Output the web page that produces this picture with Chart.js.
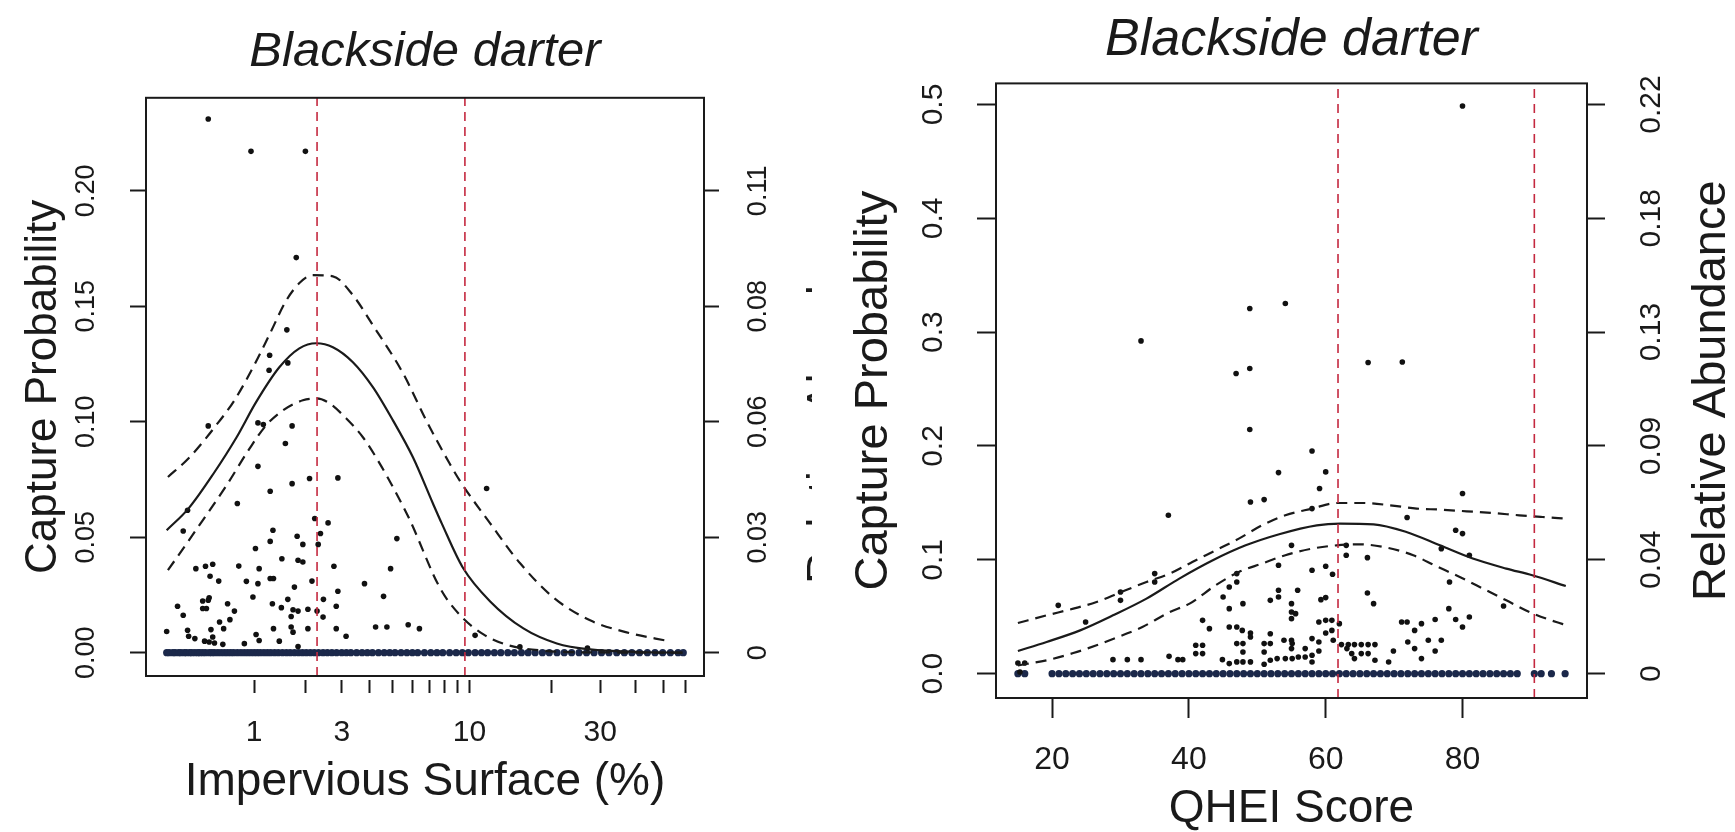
<!DOCTYPE html>
<html>
<head>
<meta charset="utf-8">
<script src="https://cdn.jsdelivr.net/npm/chart.js@4.4.1/dist/chart.umd.min.js"></script>
<style>
  body { margin: 0; background: #fff; }
  #left { position: absolute; left: 0; top: 0; }
  #right { position: absolute; left: 812px; top: 0; background: #fff; }
</style>
</head>
<body>
<canvas id="left" width="840" height="832"></canvas>
<canvas id="right" width="923" height="832"></canvas>
<script>
// ---- left panel: impervious surface (%), x drawn on a log10(% + 1) axis ----
var impTicks = [1, 2, 3, 4, 5, 6, 7, 8, 9, 10, 20, 30, 40, 50, 60];
var impLabels = { 1: '1', 3: '3', 10: '10', 30: '30' };
var impProbTicks = [0, 0.05, 0.1, 0.15, 0.2];
var impProbLabels = ['0.00', '0.05', '0.10', '0.15', '0.20'];
var impRelLabels = ['0', '0.03', '0.06', '0.08', '0.11'];
var impCuts = [2.29, 9.61];

var impZero = [0, 0.02, 0.05, 0.07, 0.1, 0.12, 0.15, 0.17, 0.2, 0.22, 0.25, 0.28, 0.3, 0.33, 0.36, 0.4,
  0.43, 0.46, 0.5, 0.54, 0.58, 0.62, 0.66, 0.7, 0.75, 0.8, 0.85, 0.9, 0.95, 1, 1.05, 1.1, 1.16, 1.22,
  1.28, 1.35, 1.42, 1.5, 1.58, 1.66, 1.75, 1.84, 1.93, 2.02, 2.12, 2.22, 2.33, 2.45, 2.57, 2.7, 2.84,
  3, 3.15, 3.3, 3.5, 3.7, 3.9, 4.1, 4.35, 4.6, 4.85, 5.1, 5.4, 5.7, 6, 6.3, 6.7, 7.1, 7.5, 7.9, 8.4,
  8.9, 9.4, 9.9, 10.5, 11.1, 11.7, 12.4, 13.1, 13.9, 14.7, 15.6, 16.5, 17.5, 18.6, 19.7, 21, 22.3,
  23.7, 25.2, 26.8, 28.5, 30.3, 32.2, 34.3, 36.5, 38.8, 41.3, 44, 46.8, 49.8, 53, 56.4, 58.8];

var impPts = [[0.39, 0.2311], [0.95, 0.2171], [2.0, 0.2171], [1.79, 0.1711], [1.59, 0.1398],
  [1.26, 0.1288], [1.61, 0.1255], [1.25, 0.1223], [0.39, 0.0982], [1.06, 0.0995], [1.15, 0.0988],
  [1.7, 0.0982], [1.56, 0.0906], [1.06, 0.0807], [2.1, 0.0754], [2.88, 0.0757], [1.7, 0.0732],
  [1.27, 0.0699], [0.75, 0.0646], [0.18, 0.0617], [2.23, 0.0581], [2.59, 0.0562], [1.32, 0.053],
  [11.6, 0.0711], [0.14, 0.0527], [2.38, 0.0516], [1.81, 0.0504], [1.27, 0.0482], [1.94, 0.0469],
  [2.32, 0.0469], [5.19, 0.0494], [1.02, 0.0451], [1.49, 0.0407], [1.83, 0.04], [1.94, 0.0393],
  [0.26, 0.0364], [0.36, 0.0374], [0.44, 0.0383], [0.77, 0.0375], [1.08, 0.0364], [2.76, 0.0374],
  [4.89, 0.0364], [0.41, 0.0331], [0.51, 0.031], [0.88, 0.0309], [1.06, 0.0299], [1.27, 0.0321],
  [1.33, 0.0321], [2.16, 0.031], [1.75, 0.0284], [3.79, 0.0299], [2.88, 0.0266], [0.98, 0.0241],
  [0.4, 0.0238], [0.33, 0.0224], [0.39, 0.0227], [1.61, 0.0231], [2.46, 0.0231], [4.57, 0.0244],
  [0.09, 0.0201], [0.62, 0.0212], [1.31, 0.0212], [1.48, 0.0195], [0.33, 0.0191], [0.37, 0.0191],
  [1.72, 0.0186], [1.83, 0.018], [2.06, 0.0188], [2.29, 0.018], [2.83, 0.0201], [0.71, 0.018],
  [0.14, 0.0162], [1.68, 0.0157], [2.45, 0.0154], [0.65, 0.0143], [0.52, 0.0133], [0, 0.0092],
  [0.18, 0.0097], [0.42, 0.01], [0.57, 0.0104], [1.33, 0.0104], [1.68, 0.0111], [1.72, 0.0089],
  [2.06, 0.0104], [2.83, 0.0104], [4.23, 0.0111], [4.72, 0.0111], [5.77, 0.0121], [6.4, 0.0104],
  [0.19, 0.0071], [0.25, 0.0061], [1.03, 0.0079], [3.14, 0.0071], [0.44, 0.0068], [0.35, 0.005],
  [0.4, 0.0046], [0.46, 0.0042], [0.56, 0.0036], [0.85, 0.0039], [1.08, 0.0053], [1.44, 0.005],
  [1.83, 0.0027], [10.5, 0.0075], [15.4, 0.0025], [27, 0.002]];

var impFit = [[0, 0.053], [0.19, 0.0625], [0.45, 0.0776], [0.74, 0.0933], [1.03, 0.1085],
  [1.44, 0.1236], [1.86, 0.1318], [2.27, 0.134], [2.73, 0.1323], [3.37, 0.1258], [4.12, 0.115],
  [5.0, 0.1006], [6.03, 0.0846], [7.23, 0.0647], [7.83, 0.056], [9.43, 0.0369], [11.96, 0.0222],
  [15.86, 0.0105], [20.97, 0.004], [27.59, 0.0014], [41.46, 0.0003], [58.5, 0]];
var impUpper = [[0.01, 0.0761], [0.19, 0.0842], [0.48, 0.0985], [0.71, 0.1093], [1.0, 0.1245],
  [1.26, 0.1379], [1.58, 0.1526], [1.88, 0.1604], [2.18, 0.1635], [2.73, 0.163], [3.37, 0.1548],
  [4.12, 0.1418], [5.5, 0.121], [6.81, 0.1006], [8.39, 0.082], [9.32, 0.0734], [11.96, 0.056],
  [15.43, 0.0387], [20.38, 0.0239], [27.59, 0.014], [37.2, 0.0088], [52.8, 0.0049]];
var impLower = [[0.01, 0.0357], [0.26, 0.053], [0.6, 0.0721], [0.93, 0.0885], [1.2, 0.0985],
  [1.51, 0.1049], [1.94, 0.1093], [2.27, 0.1101], [2.63, 0.108], [3.14, 0.1015], [3.73, 0.0933],
  [4.4, 0.082], [5.16, 0.069], [5.84, 0.0578], [7.72, 0.0279], [9.22, 0.0162], [11.29, 0.0079],
  [13.79, 0.0034], [18.24, 0.001], [29.94, 0.0001], [58.5, 0]];

// ---- right panel: QHEI score ----
var qheiTicks = [20, 40, 60, 80];
var qheiProbTicks = [0, 0.1, 0.2, 0.3, 0.4, 0.5];
var qheiProbLabels = ['0.0', '0.1', '0.2', '0.3', '0.4', '0.5'];
var qheiRelLabels = ['0', '0.04', '0.09', '0.13', '0.18', '0.22'];
var qheiCuts = [61.8, 90.5];

var qheiZero = [15, 16, 20, 21, 22, 23, 24, 25, 26, 27, 28, 29, 30, 31, 32, 33, 34, 35, 36, 37, 38, 39,
  40, 41, 42, 43, 44, 45, 46, 47, 48, 49, 50, 51, 52, 53, 54, 55, 56, 57, 58, 59, 60, 61, 62, 63, 64,
  65, 66, 67, 68, 69, 70, 71, 72, 73, 74, 75, 76, 77, 78, 79, 80, 81, 82, 83, 84, 85, 86, 87, 88,
  90.5, 91.5, 93, 95];

var qheiPts = [[15, 0.0093], [16, 0.0093], [15.3, 0.0014], [20.9, 0.06], [24.9, 0.0453],
  [28.9, 0.0123], [31, 0.0123], [33, 0.0123], [30, 0.0717], [30, 0.0644], [33, 0.2923], [35, 0.0879],
  [35, 0.0805], [37, 0.1391], [37.1, 0.0152], [38.4, 0.0123], [39.1, 0.0123], [41, 0.0249],
  [42, 0.0249], [41, 0.0176], [42, 0.0176], [42, 0.0468], [43, 0.0395], [45, 0.0673], [45.9, 0.0761],
  [45.9, 0.0571], [47, 0.0879], [47, 0.0805], [47.9, 0.0615], [45.9, 0.041], [47, 0.041],
  [47.8, 0.038], [49, 0.0357], [49, 0.0322], [47, 0.0264], [47.9, 0.0264], [47.9, 0.019],
  [44.9, 0.0123], [45.9, 0.0088], [47, 0.0103], [47.9, 0.0103], [49, 0.0103], [46.9, 0.2636],
  [48.9, 0.268], [48.9, 0.3207], [48.9, 0.2144], [49, 0.1508], [51, 0.1529], [51, 0.0264],
  [51, 0.019], [51.9, 0.0351], [51.9, 0.0264], [51, 0.0082], [51.9, 0.0117], [53.1, 0.1766],
  [53.1, 0.0952], [53.1, 0.0732], [53.1, 0.0673], [51.9, 0.0644], [52.9, 0.0132], [53.9, 0.0293],
  [54.1, 0.3251], [54.1, 0.0132], [55, 0.1127], [55, 0.0615], [55, 0.0541], [55, 0.0483],
  [55.1, 0.0264], [55.1, 0.0132], [55.6, 0.0527], [55, 0.0293], [55, 0.022], [56, 0.0146],
  [57, 0.0146], [58, 0.0161], [58, 0.0102], [55.9, 0.0732], [58, 0.1956], [58, 0.145], [58, 0.0908],
  [58, 0.0308], [57, 0.022], [59, 0.0453], [59, 0.0278], [59, 0.0199], [59.1, 0.1626], [59.3, 0.065],
  [60, 0.1772], [60, 0.0943], [60, 0.0668], [60, 0.0468], [60, 0.0357], [61, 0.0873], [60.9, 0.0468],
  [60.9, 0.038], [61.1, 0.0293], [62, 0.0439], [63, 0.1127], [63, 0.104], [62.3, 0.0255],
  [63.3, 0.0255], [64.2, 0.0255], [65.2, 0.0255], [66.2, 0.0255], [67.2, 0.0255], [63.1, 0.022],
  [63.8, 0.0176], [64.2, 0.0132], [65.2, 0.0176], [66.2, 0.0176], [67.2, 0.0117], [66.1, 0.1019],
  [66.1, 0.0708], [67, 0.0615], [66.2, 0.2733], [69.9, 0.0199], [69.2, 0.0102], [71.1, 0.0453],
  [71.9, 0.0453], [71.9, 0.1371], [71.2, 0.2738], [72, 0.0278], [73, 0.038], [73, 0.022],
  [74, 0.0439], [74, 0.0132], [75, 0.0293], [76, 0.0475], [76, 0.0199], [76.9, 0.0293],
  [76.9, 0.1098], [78, 0.0571], [78.1, 0.0805], [79, 0.1259], [79, 0.0475], [80, 0.123],
  [80, 0.1582], [80, 0.041], [80, 0.4986], [81, 0.104], [81, 0.0497], [86, 0.0594]];

var qheiFit = [[15, 0.0199], [19.2, 0.0278], [24.1, 0.038], [28.9, 0.0512], [33.8, 0.0659],
  [38.6, 0.0835], [43.5, 0.0996], [48.3, 0.1127], [53.2, 0.1225], [58.7, 0.1303], [62.1, 0.1318],
  [67, 0.1312], [71.8, 0.1244], [76.7, 0.1127], [81.5, 0.1011], [86.4, 0.0923], [90.2, 0.0864],
  [95.1, 0.077]];
var qheiUpper = [[15, 0.0445], [19.2, 0.0512], [23.1, 0.0571], [26.5, 0.0629], [30.1, 0.0717],
  [33.8, 0.0805], [37.2, 0.0879], [40.5, 0.0981], [43.9, 0.1083], [47.3, 0.1186], [50.7, 0.1303],
  [54.1, 0.1391], [58, 0.145], [61.6, 0.1499], [65.5, 0.1499], [69.4, 0.1479], [73.3, 0.145],
  [76.7, 0.1441], [80.6, 0.1426], [84.4, 0.1411], [88.3, 0.1391], [91.7, 0.1376], [95.1, 0.1362]];
var qheiLower = [[15, 0.0073], [19.2, 0.0117], [23.1, 0.0181], [26.5, 0.0249], [30.3, 0.0337],
  [33.2, 0.041], [37.2, 0.0541], [40.1, 0.0615], [43.9, 0.0776], [47.3, 0.0893], [50.7, 0.0967],
  [54.1, 0.104], [58, 0.1098], [61.6, 0.1127], [65, 0.1136], [68.9, 0.1107], [72.8, 0.104],
  [76.2, 0.0943], [79.6, 0.0849], [83, 0.0747], [86.4, 0.0644], [89.8, 0.0541], [93.7, 0.0453],
  [95, 0.043]];

var FONT = "'Liberation Sans', Arial, sans-serif";
var INK = '#1a1a1a';

// box round the plot area plus the right-hand axis title (read bottom to top, as in R)
var framePlugin = {
  id: 'frame',
  afterDatasetsDraw: function(chart, args, o) {
    var ctx = chart.ctx, a = chart.chartArea;
    ctx.save();
    ctx.strokeStyle = INK;
    ctx.lineWidth = 2;
    ctx.strokeRect(a.left, a.top, a.right - a.left, a.bottom - a.top);
    if (o.text) {
      ctx.translate(o.x, (a.top + a.bottom) / 2);
      ctx.rotate(-Math.PI / 2);
      ctx.font = o.size + 'px ' + FONT;
      ctx.fillStyle = INK;
      ctx.textAlign = 'center';
      ctx.textBaseline = 'middle';
      ctx.fillText(o.text, 0, 0);
    }
    ctx.restore();
  }
};

function panel(canvas, p) {
  var pt = function(d) { return { x: p.fx(d[0]), y: d[1] }; };
  var curve = function(d, dash) {
    return { data: d.map(pt), showLine: true, borderColor: INK, borderWidth: 2.2, borderDash: dash,
      pointRadius: 0, cubicInterpolationMode: 'monotone', order: 1 };
  };
  var cut = function(c) {
    return { data: [{ x: p.fx(c), y: p.ymin }, { x: p.fx(c), y: p.ymax }], showLine: true,
      borderColor: '#c4283f', borderWidth: 1.6, borderDash: [9, 6], pointRadius: 0, order: 0 };
  };
  var tickGrid = function(len, dash) {
    return { drawOnChartArea: false, drawTicks: true, tickLength: len, tickWidth: 2,
      tickColor: INK, tickBorderDash: dash || [] };
  };
  var datasets = [
    { data: p.zero.map(function(v) { return { x: p.fx(v), y: 0 }; }),
      backgroundColor: '#1b284a', pointRadius: 3.6, borderWidth: 0, order: 3 },
    { data: p.pts.map(pt), backgroundColor: '#111', pointRadius: 2.8, borderWidth: 0, order: 2 },
    curve(p.fit, []), curve(p.upper, [11, 7]), curve(p.lower, [11, 7])
  ].concat(p.cuts.map(cut));

  return new Chart(canvas, {
    type: 'scatter',
    data: { datasets: datasets },
    plugins: [framePlugin],
    options: {
      responsive: false,
      animation: false,
      events: [],
      devicePixelRatio: 1,
      layout: { padding: 0 },
      plugins: {
        legend: { display: false },
        tooltip: { enabled: false },
        title: { display: true, text: 'Blackside darter', fullSize: false, color: INK,
          font: { family: FONT, size: p.titleSize, style: 'italic', weight: 'normal' },
          padding: p.titlePad },
        frame: { text: 'Relative Abundance', x: p.relX, size: p.relSize }
      },
      scales: {
        x: {
          type: 'linear', min: p.xmin, max: p.xmax,
          afterBuildTicks: function(a) { a.ticks = p.xTicks.map(function(v) { return { value: p.fx(v) }; }); },
          afterFit: function(a) { a.height = p.xHeight; },
          ticks: { autoSkip: false, maxRotation: 0, color: INK, padding: p.xTickPad,
            font: { family: FONT, size: p.xTickSize },
            callback: function(v, i) { return p.xLabel(p.xTicks[i]); } },
          grid: tickGrid(p.xTickLen, p.xTickDash),
          border: { display: false },
          title: { display: true, text: p.xTitle, color: INK, padding: { top: 0, bottom: p.xTitlePad },
            font: { family: FONT, size: p.xTitleSize, lineHeight: 1 } }
        },
        y: {
          position: 'left', min: p.ymin, max: p.ymax,
          afterBuildTicks: function(a) { a.ticks = p.yTicks.map(function(v) { return { value: v }; }); },
          afterFit: function(a) { a.width = p.yWidth; },
          ticks: { autoSkip: false, minRotation: 90, maxRotation: 90, crossAlign: 'center', color: INK,
            padding: p.yTickPad, font: { family: FONT, size: p.yTickSize },
            callback: function(v, i) { return p.yLabels[i]; } },
          grid: tickGrid(p.yTickLen),
          border: { display: false },
          title: { display: true, text: 'Capture Probability', color: INK,
            padding: { top: p.yTitlePad, bottom: 0 },
            font: { family: FONT, size: p.yTitleSize, lineHeight: 1 } }
        },
        y2: {
          position: 'right', min: p.ymin, max: p.ymax,
          afterBuildTicks: function(a) { a.ticks = p.yTicks.map(function(v) { return { value: v }; }); },
          afterFit: function(a) { a.width = p.y2Width; },
          ticks: { autoSkip: false, minRotation: 90, maxRotation: 90, crossAlign: 'center', color: INK,
            padding: p.y2TickPad, font: { family: FONT, size: p.y2TickSize },
            callback: function(v, i) { return p.relLabels[i]; } },
          grid: tickGrid(p.y2TickLen),
          border: { display: false }
        }
      }
    }
  });
}

// left: impervious surface, log10(x + 1) axis
panel(document.getElementById('left'), {
  fx: function(v) { return Math.log10(v + 1); },
  zero: impZero, pts: impPts, fit: impFit, upper: impUpper, lower: impLower, cuts: impCuts,
  xmin: -0.0711, xmax: 1.848, ymin: -0.0101, ymax: 0.2403,
  xTicks: impTicks, xLabel: function(v) { return impLabels[v] || ''; },
  yTicks: impProbTicks, yLabels: impProbLabels, relLabels: impRelLabels,
  titleSize: 49, titlePad: { top: 23, bottom: 16 },
  xHeight: 156, xTickLen: 17, xTickDash: [0, 4, 13, 60], xTickPad: 22, xTickSize: 30,
  xTitle: 'Impervious Surface (%)', xTitleSize: 46, xTitlePad: 27,
  yWidth: 146, yTickLen: 16, yTickPad: 17, yTickSize: 27, yTitleSize: 44, yTitlePad: 22,
  y2Width: 136, y2TickLen: 15, y2TickPad: 13, y2TickSize: 27,
  relX: 826, relSize: 44
});

// right: QHEI score
panel(document.getElementById('right'), {
  fx: function(v) { return v; },
  zero: qheiZero, pts: qheiPts, fit: qheiFit, upper: qheiUpper, lower: qheiLower, cuts: qheiCuts,
  xmin: 11.8, xmax: 98.2, ymin: -0.0214, ymax: 0.5185,
  xTicks: qheiTicks, xLabel: function(v) { return String(v); },
  yTicks: qheiProbTicks, yLabels: qheiProbLabels, relLabels: qheiRelLabels,
  titleSize: 52, titlePad: { top: 9, bottom: 12 },
  xHeight: 134, xTickLen: 20, xTickDash: null, xTickPad: 23, xTickSize: 32,
  xTitle: 'QHEI Score', xTitleSize: 46, xTitlePad: 0,
  yWidth: 184, yTickLen: 19, yTickPad: 22, yTickSize: 30, yTitleSize: 47, yTitlePad: 39,
  y2Width: 148, y2TickLen: 18, y2TickPad: 18, y2TickSize: 30,
  relX: 900, relSize: 47
});
</script>
</body>
</html>
